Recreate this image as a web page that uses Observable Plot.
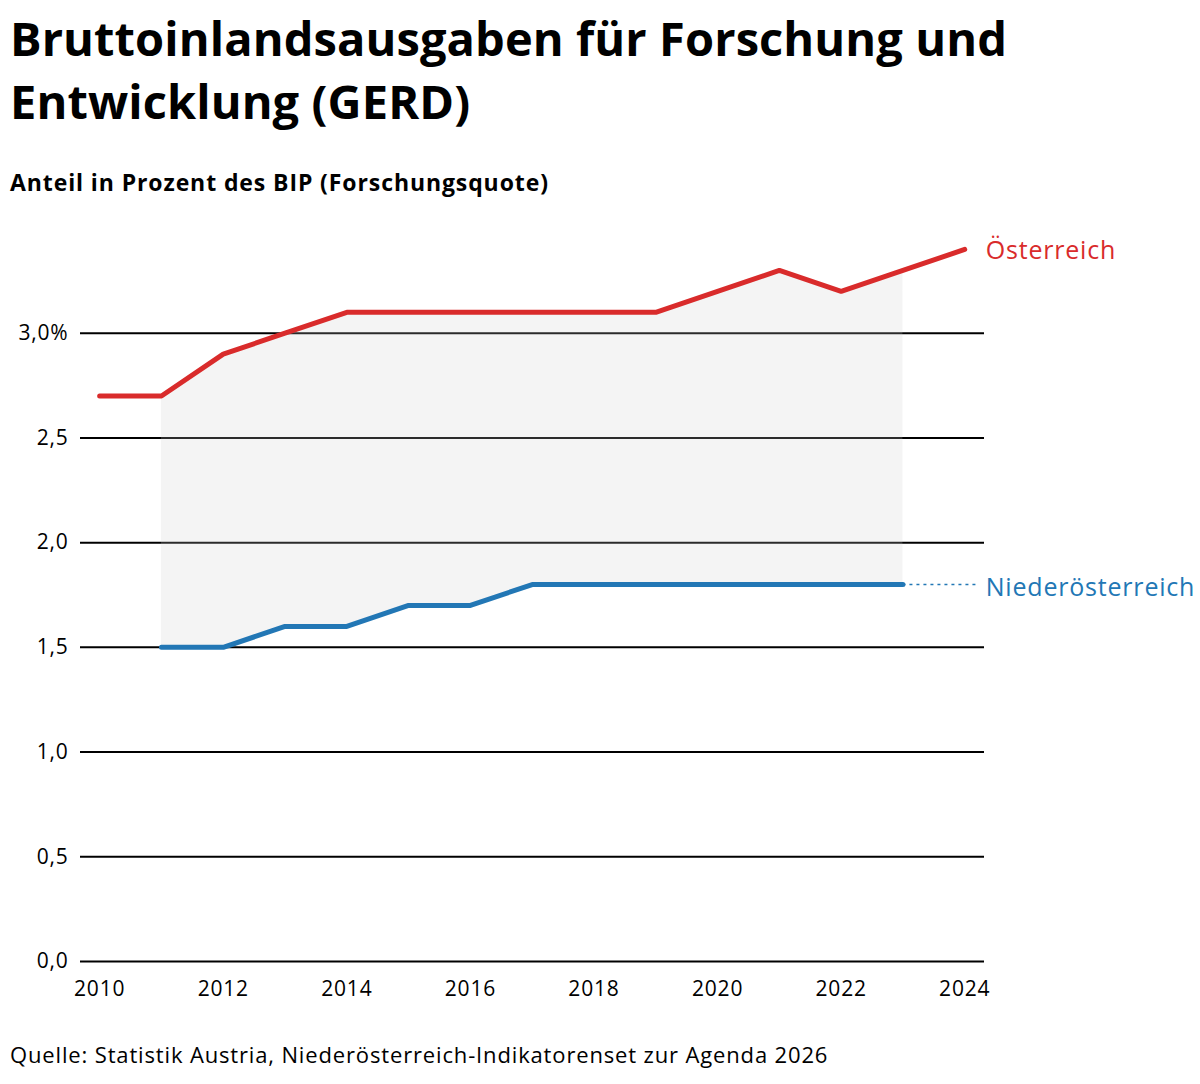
<!DOCTYPE html>
<html lang="de">
<head>
<meta charset="utf-8">
<script src="https://cdn.jsdelivr.net/npm/d3@7"></script>
<script src="https://cdn.jsdelivr.net/npm/@observablehq/plot@0.6"></script>
<style>
  html, body { margin: 0; padding: 0; background: #fff; }
  body { width: 1200px; height: 1084px; position: relative; font-family: "Open Sans", "Noto Sans", sans-serif; color: #000; }
  #title { position: absolute; left: 10px; top: 7px; font-size: 47px; font-weight: 700; line-height: 63px; letter-spacing: 0.1px; }
  #subtitle { position: absolute; left: 10px; top: 166px; font-size: 23px; font-weight: 700; letter-spacing: 0.9px; }
  #chart { position: absolute; left: 0; top: 215px; }
  #caption { position: absolute; left: 10px; top: 1039px; font-size: 22px; font-weight: 400; letter-spacing: 0.85px; }
  #chart svg text { letter-spacing: 0.8px; }
</style>
</head>
<body>
<div id="title">Bruttoinlandsausgaben für Forschung und<br>Entwicklung (GERD)</div>
<div id="subtitle">Anteil in Prozent des BIP (Forschungsquote)</div>
<div id="chart"></div>
<div id="caption">Quelle: Statistik Austria, Niederösterreich-Indikatorenset zur Agenda 2026</div>
<script>
// Forschungsquote (GERD in % des BIP)
const yearsAT = [2010, 2011, 2012, 2013, 2014, 2015, 2016, 2017, 2018, 2019, 2020, 2021, 2022, 2023, 2024];
const valuesAT = [2.7, 2.7, 2.9, 3.0, 3.1, 3.1, 3.1, 3.1, 3.1, 3.1, 3.2, 3.3, 3.2, 3.3, 3.4];

const yearsNOE = [2011, 2012, 2013, 2014, 2015, 2016, 2017, 2018, 2019, 2020, 2021, 2022, 2023];
const valuesNOE = [1.5, 1.5, 1.6, 1.6, 1.7, 1.7, 1.8, 1.8, 1.8, 1.8, 1.8, 1.8, 1.8];

const yTicks = [0, 0.5, 1.0, 1.5, 2.0, 2.5, 3.0];
const xTicks = [2010, 2012, 2014, 2016, 2018, 2020, 2022, 2024];

const seriesNames = ["Österreich", "Niederösterreich"];
const seriesColors = ["#d92b2b", "#2277b5"];
// end of the dotted leader towards the Niederösterreich label
const leaderEndYear = 2024.2;

const at = yearsAT.map((year, i) => ({year, value: valuesAT[i]}));
const noe = yearsNOE.map((year, i) => ({year, value: valuesNOE[i]}));
// band between the two series over the years both are available
const band = noe.map(d => ({year: d.year, low: d.value, high: valuesAT[yearsAT.indexOf(d.year)]}));

const fmt = d => d.toFixed(1).replace(".", ",") + (d === 3 ? "%" : "");
const font = "'Open Sans', 'Noto Sans', sans-serif";

const chart = Plot.plot({
  width: 1200,
  height: 786,
  marginLeft: 80,
  marginRight: 216,
  marginTop: 13,
  marginBottom: 40,
  style: {fontFamily: font, fontSize: "21px", color: "#000", background: "transparent"},
  x: {domain: [2009.69, 2024.32], ticks: xTicks, tickFormat: d => String(d), tickSize: 0, tickPadding: 20, label: null},
  y: {domain: [0, 3.5], ticks: yTicks, tickFormat: fmt, tickSize: 0, tickPadding: 12, label: null},
  marks: [
    Plot.ruleY(yTicks, {stroke: "#000", strokeWidth: 2}),
    Plot.areaY(band, {x: "year", y1: "low", y2: "high", fill: "rgb(202,202,202)", fillOpacity: 0.21}),
    Plot.ruleY([valuesNOE[valuesNOE.length - 1]], {x1: yearsNOE[yearsNOE.length - 1], x2: leaderEndYear, stroke: seriesColors[1], strokeWidth: 1.5, strokeDasharray: "3,4"}),
    Plot.lineY(at, {x: "year", y: "value", stroke: seriesColors[0], strokeWidth: 5, strokeLinecap: "round", strokeLinejoin: "round"}),
    Plot.lineY(noe, {x: "year", y: "value", stroke: seriesColors[1], strokeWidth: 5, strokeLinecap: "round", strokeLinejoin: "round"}),
    Plot.text([at[at.length - 1]], {x: "year", y: "value", text: () => seriesNames[0], fill: seriesColors[0], textAnchor: "start", dx: 21, dy: 2, fontSize: 25}),
    Plot.text([noe[noe.length - 1]], {x: () => yearsAT[yearsAT.length - 1], y: "value", text: () => seriesNames[1], fill: seriesColors[1], textAnchor: "start", dx: 21, dy: 3, fontSize: 25})
  ]
});
document.getElementById("chart").appendChild(chart);
</script>
</body>
</html>
